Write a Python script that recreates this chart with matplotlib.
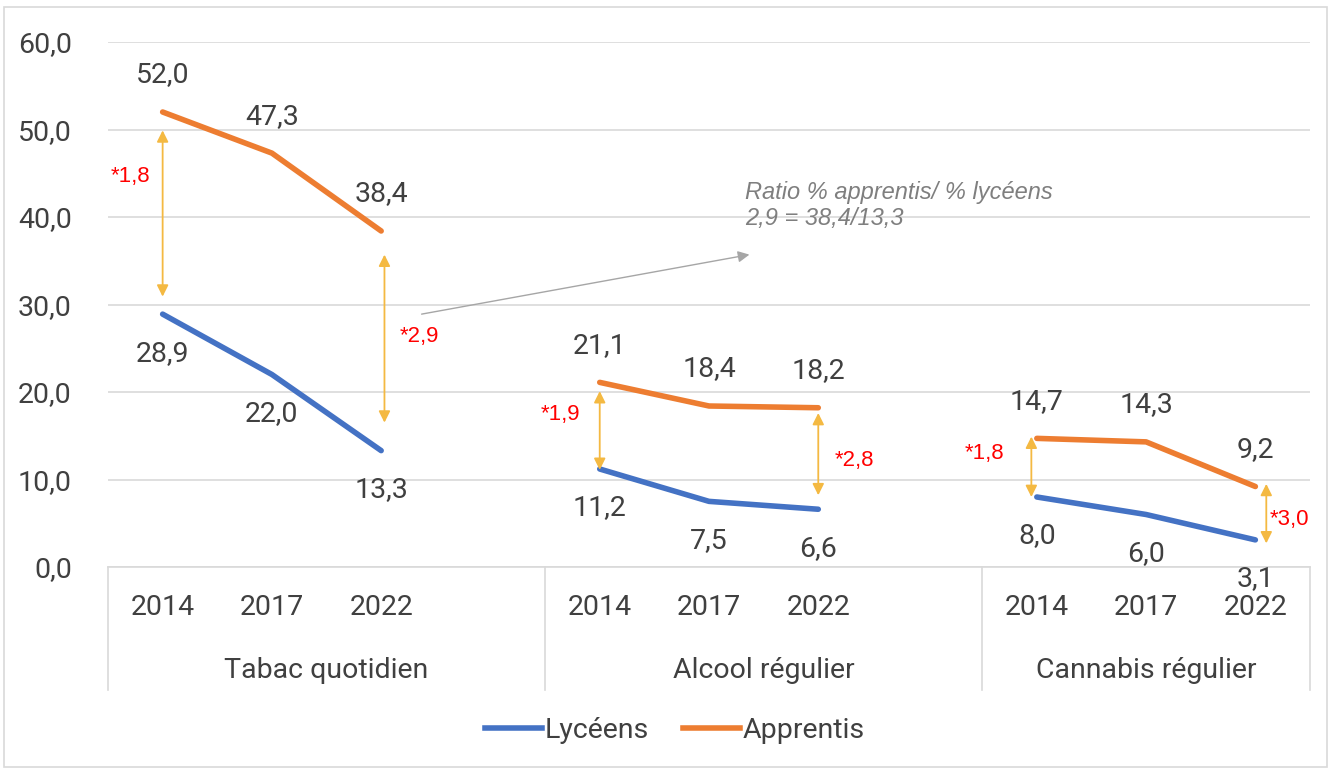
import matplotlib
matplotlib.use("Agg")
import matplotlib.pyplot as plt
from matplotlib.patches import FancyArrowPatch
from matplotlib.lines import Line2D

# ---- data ----
groups = ["Tabac quotidien", "Alcool régulier", "Cannabis régulier"]
years = ["2014", "2017", "2022"]
lyceens = [28.9, 22.0, 13.3, 11.2, 7.5, 6.6, 8.0, 6.0, 3.1]
apprentis = [52.0, 47.3, 38.4, 21.1, 18.4, 18.2, 14.7, 14.3, 9.2]
ratios = ["*1,8", "*2,9", "*1,9", "*2,8", "*1,8", "*3,0"]
# arrows between series (x slot, top value, bottom value)
ratio_x = [0.0, 2.03, 4.0, 6.0, 7.95, 10.1]
ratio_top = [49.9, 35.7, 20.1, 17.6, 14.9, 9.5]
ratio_bot = [30.9, 16.5, 11.1, 8.2, 8.0, 2.7]
ratio_lbl_x = [-0.29, 2.35, 3.64, 6.33, 7.52, 10.31]
ratio_lbl_y = [44.6, 26.3, 17.4, 12.2, 13.0, 5.4]
yticks = [0, 10, 20, 30, 40, 50, 60]

BLUE = "#4472C4"
ORANGE = "#ED7D31"
YEL = "#F4B942"
TXT = "#404040"
FONT = "Roboto"
FS = 20.5

fig = plt.figure(figsize=(13.31, 7.69), dpi=100)
W, H = 1331, 769
ax = fig.add_axes([108 / W, 1 - 567 / H, (1310 - 108) / W, (567 - 42) / H])

# slot positions: 4 slots per group (last group 3)
xs = []
for g in range(3):
    for k in range(3):
        xs.append(g * 4 + k)

for g in range(3):
    sl = slice(g * 3, g * 3 + 3)
    ax.plot(xs[sl], lyceens[sl], color=BLUE, lw=4, solid_capstyle="round", zorder=3)
    ax.plot(xs[sl], apprentis[sl], color=ORANGE, lw=4, solid_capstyle="round", zorder=3)

def fmt(v):
    return f"{v:.1f}".replace(".", ",")

for x, v in zip(xs, apprentis):
    ax.annotate(fmt(v), (x, v), xytext=(0, 37), textcoords="offset pixels",
                ha="center", va="center", fontsize=FS, color=TXT, family=FONT)
for x, v in zip(xs, lyceens):
    ax.annotate(fmt(v), (x, v), xytext=(0, -39), textcoords="offset pixels",
                ha="center", va="center", fontsize=FS, color=TXT, family=FONT)

# double arrows and ratio labels
for x, t, b, lx, ly, r in zip(ratio_x, ratio_top, ratio_bot, ratio_lbl_x, ratio_lbl_y, ratios):
    ax.add_patch(FancyArrowPatch((x, b), (x, t), arrowstyle="<|-|>", mutation_scale=17,
                                 color=YEL, lw=1.3, shrinkA=0, shrinkB=0, zorder=4))
    ax.text(lx, ly, r, color="#FF0000", fontsize=16, ha="center", va="center",
            family="Liberation Sans")

# grey annotation arrow and text
ax.add_patch(FancyArrowPatch((2.37, 28.9), (5.37, 35.7), arrowstyle="-|>", mutation_scale=17,
                             color="#A6A6A6", lw=1.0, shrinkA=0, shrinkB=0, zorder=4))
ax.text(5.33, 41.3, "Ratio % apprentis/ % lycéens\n2,9 = 38,4/13,3", color="#7F7F7F",
        fontsize=17, style="italic", ha="left", va="center", family="Liberation Sans",
        linespacing=1.15)

ax.set_xlim(-0.5, 10.5)
ax.set_ylim(0, 60)
ax.set_yticks(yticks)
ax.set_yticklabels([fmt(v) for v in yticks], fontsize=FS, color=TXT, family=FONT)
ax.tick_params(axis="y", length=0, pad=26)
ax.set_xticks([])
ax.grid(axis="y", color="#D9D9D9", lw=1.2)
ax.set_axisbelow(True)
for s in ["top", "right", "left"]:
    ax.spines[s].set_visible(False)
ax.spines["bottom"].set_color("#D9D9D9")
ax.spines["bottom"].set_linewidth(1.2)

# multi-level category axis
for bx in [-0.5, 3.5, 7.5, 10.5]:
    ax.plot([bx, bx], [0, -14.06], color="#D9D9D9", lw=1.2, clip_on=False)
for i, x in enumerate(xs):
    ax.text(x, -4.6, years[i % 3], ha="center", va="center", fontsize=FS,
            color=TXT, family=FONT)
group_centers = [1.5, 5.5, 9.0]
for gc, gname in zip(group_centers, groups):
    ax.text(gc, -11.8, gname, ha="center", va="center", fontsize=FS,
            color=TXT, family=FONT)

# legend
handles = [Line2D([], [], color=BLUE, lw=4), Line2D([], [], color=ORANGE, lw=4)]
fig.legend(handles, ["Lycéens", "Apprentis"], loc="center", bbox_to_anchor=(675 / W, 1 - 730 / H),
           ncol=2, frameon=False, prop={"family": FONT, "size": FS}, labelcolor=TXT,
           handlelength=2.0, handletextpad=0.1, columnspacing=1.2)

# outer border
fig.patches.append(plt.Rectangle((4 / W, 0.002), 1 - 8 / W, 1 - 9 / H, transform=fig.transFigure,
                                 fill=False, edgecolor="#D9D9D9", lw=1.2))

fig.savefig("out.png", dpi=100)
